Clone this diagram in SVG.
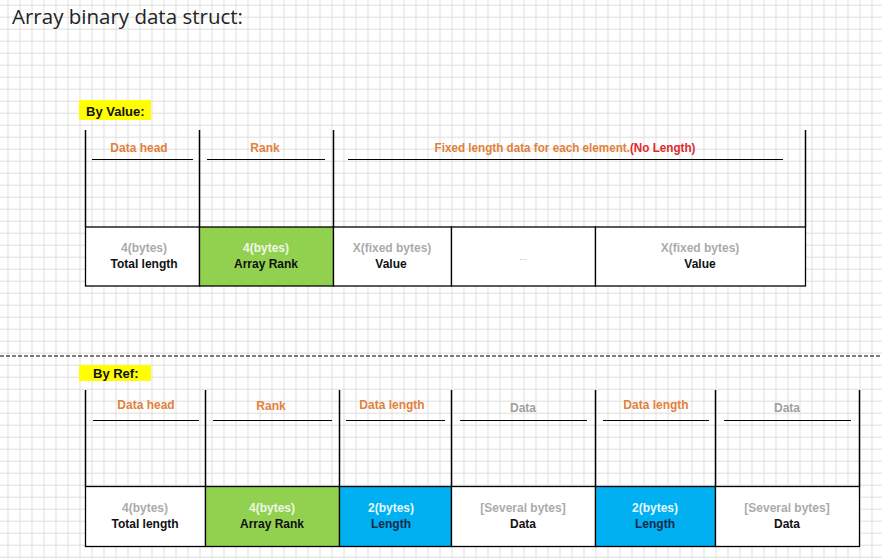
<svg xmlns="http://www.w3.org/2000/svg" width="882" height="559" viewBox="0 0 882 559">
<defs>
<pattern id="grid" x="7.5" y="4.7" width="12" height="12" patternUnits="userSpaceOnUse">
<path d="M0.5 0V12M0 0.5H12" stroke="#dedede" stroke-width="1" fill="none"/>
</pattern>
<style>
text{font-family:"Liberation Sans",Arial,sans-serif;}
.title{font-family:"Open Sans","Liberation Sans",sans-serif;font-size:19.5px;fill:#222;}
.hl{fill:#ffff00;}
.sec{font-size:13px;font-weight:bold;fill:#111;}
.frame{stroke:#000;stroke-width:1.5;fill:none;}
.ul{stroke:#000;stroke-width:1;}
.cell{stroke:#000;stroke-width:1.3;}
.w{fill:#fff;}
.g{fill:#92d050;}
.b{fill:#00b0f0;}
.lbl{font-size:12px;font-weight:bold;text-anchor:middle;fill:#e2813b;}
.lblg{font-size:12px;font-weight:bold;text-anchor:middle;fill:#a0a0a0;}
.red{fill:#e02a2a;}
.t1{font-size:12px;text-anchor:middle;fill:#ababab;font-weight:bold;}
.t1g{font-size:12px;text-anchor:middle;fill:#eef8e4;font-weight:bold;}
.t1b{font-size:12px;text-anchor:middle;fill:#e6f8ff;font-weight:bold;}
.t2{font-size:12px;font-weight:bold;text-anchor:middle;fill:#111;}
.t2b{font-size:12px;font-weight:bold;text-anchor:middle;fill:#13294b;}
</style>
</defs>
<rect width="882" height="559" fill="#fff"/>
<rect width="882" height="559" fill="url(#grid)"/>
<text class="title" x="12" y="24" textLength="231" lengthAdjust="spacingAndGlyphs">Array binary data struct:</text>

<g id="label-by-value">
<rect class="hl" x="79" y="100" width="72" height="20"/>
<text class="sec" x="86" y="116">By Value:</text>
</g>

<g id="connectors">
<line x1="0" y1="356" x2="882" y2="356" stroke="#000" stroke-width="1.2" stroke-dasharray="4,2"/>
</g>

<!-- By Value section -->
<g id="value-frame">
<line class="frame" x1="85.5" y1="130" x2="85.5" y2="227"/>
<line class="frame" x1="199.5" y1="130" x2="199.5" y2="227"/>
<line class="frame" x1="333.5" y1="130" x2="333.5" y2="227"/>
<line class="frame" x1="805.5" y1="130" x2="805.5" y2="227"/>
</g>
<g id="value-datahead">
<line class="ul" x1="92" y1="159.5" x2="193" y2="159.5"/>
<text class="lbl" x="139" y="152">Data head</text>
<rect class="cell w" x="85.5" y="227" width="114" height="59"/>
<text class="t1" x="144" y="252">4(bytes)</text>
<text class="t2" x="144" y="268">Total length</text>
</g>
<g id="value-rank">
<line class="ul" x1="207" y1="159.5" x2="325" y2="159.5"/>
<text class="lbl" x="265" y="152">Rank</text>
<rect class="cell g" x="199.5" y="227" width="134" height="59"/>
<text class="t1g" x="266" y="252">4(bytes)</text>
<text class="t2" x="266" y="268">Array Rank</text>
</g>
<g id="value-data">
<line class="ul" x1="348" y1="159.5" x2="783" y2="159.5"/>
<text class="lbl" x="565" y="152" textLength="261" lengthAdjust="spacingAndGlyphs">Fixed length data for each element.<tspan class="red">(No Length)</tspan></text>
</g>
<g id="value-cell-1">
<rect class="cell w" x="333.5" y="227" width="118" height="59"/>
<text class="t1" x="392" y="252">X(fixed bytes)</text>
<text class="t2" x="391" y="268">Value</text>
</g>
<g id="value-cell-dots">
<rect class="cell w" x="451.5" y="227" width="144" height="59"/>
<text class="t1" x="523" y="260" style="font-size:9px;font-weight:normal">...</text>
</g>
<g id="value-cell-n">
<rect class="cell w" x="595.5" y="227" width="210" height="59"/>
<text class="t1" x="700" y="252">X(fixed bytes)</text>
<text class="t2" x="700" y="268">Value</text>
</g>

<!-- By Ref section -->
<g id="label-by-ref">
<rect class="hl" x="79" y="365" width="72" height="16"/>
<text class="sec" x="93" y="378">By Ref:</text>
</g>
<g id="ref-frame">
<line class="frame" x1="85.5" y1="390" x2="85.5" y2="487"/>
<line class="frame" x1="205.5" y1="390" x2="205.5" y2="487"/>
<line class="frame" x1="339.5" y1="390" x2="339.5" y2="487"/>
<line class="frame" x1="451.5" y1="390" x2="451.5" y2="487"/>
<line class="frame" x1="595.5" y1="390" x2="595.5" y2="487"/>
<line class="frame" x1="715.5" y1="390" x2="715.5" y2="487"/>
<line class="frame" x1="859.5" y1="390" x2="859.5" y2="487"/>
</g>
<g id="ref-datahead">
<line class="ul" x1="93" y1="420.5" x2="199" y2="420.5"/>
<text class="lbl" x="146" y="409">Data head</text>
<rect class="cell w" x="85.5" y="486.5" width="120" height="60"/>
<text class="t1" x="145" y="512">4(bytes)</text>
<text class="t2" x="145" y="528">Total length</text>
</g>
<g id="ref-rank">
<line class="ul" x1="213" y1="420.5" x2="332" y2="420.5"/>
<text class="lbl" x="271" y="410">Rank</text>
<rect class="cell g" x="205.5" y="486.5" width="134" height="60"/>
<text class="t1g" x="272" y="512">4(bytes)</text>
<text class="t2" x="272" y="528">Array Rank</text>
</g>
<g id="ref-length-1">
<line class="ul" x1="346" y1="420.5" x2="445" y2="420.5"/>
<text class="lbl" x="392" y="409">Data length</text>
<rect class="cell b" x="339.5" y="486.5" width="112" height="60"/>
<text class="t1b" x="391" y="512">2(bytes)</text>
<text class="t2b" x="391" y="528">Length</text>
</g>
<g id="ref-data-1">
<line class="ul" x1="460" y1="420.5" x2="587" y2="420.5"/>
<text class="lblg" x="523" y="412">Data</text>
<rect class="cell w" x="451.5" y="486.5" width="144" height="60"/>
<text class="t1" x="523" y="512">[Several bytes]</text>
<text class="t2" x="523" y="528">Data</text>
</g>
<g id="ref-length-2">
<line class="ul" x1="603" y1="420.5" x2="709" y2="420.5"/>
<text class="lbl" x="656" y="409">Data length</text>
<rect class="cell b" x="595.5" y="486.5" width="120" height="60"/>
<text class="t1b" x="655" y="512">2(bytes)</text>
<text class="t2b" x="655" y="528">Length</text>
</g>
<g id="ref-data-2">
<line class="ul" x1="724" y1="420.5" x2="851" y2="420.5"/>
<text class="lblg" x="787" y="412">Data</text>
<rect class="cell w" x="715.5" y="486.5" width="144" height="60"/>
<text class="t1" x="787" y="512">[Several bytes]</text>
<text class="t2" x="787" y="528">Data</text>
</g>
</svg>
